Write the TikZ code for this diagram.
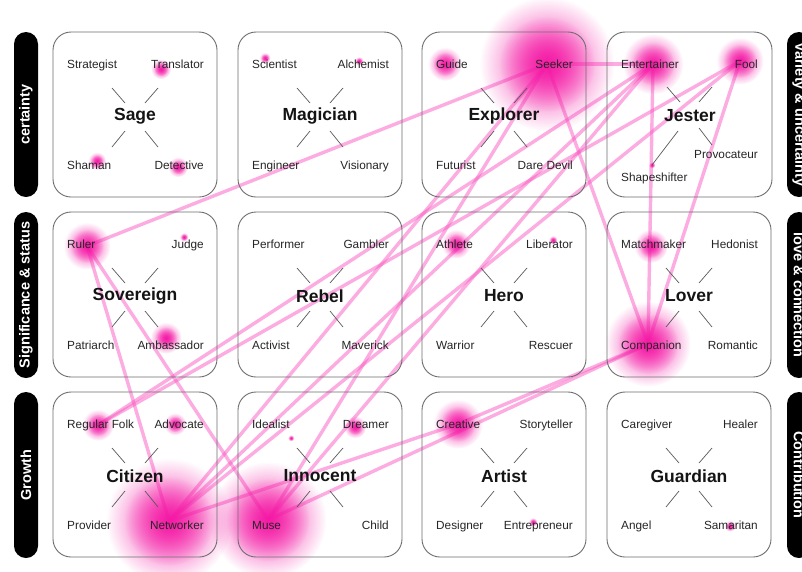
\documentclass[tikz,border=0pt]{standalone}
\usepackage{fontspec}
\setmainfont{Liberation Sans}
\usetikzlibrary{fadings}
\definecolor{heat}{RGB}{245,24,165}
\definecolor{gline}{RGB}{250,90,195}
\definecolor{boxgray}{RGB}{110,110,110}
\tikzfading[name=blobfade, inner color=transparent!0, outer color=transparent!100]
\newcommand\heatblob[3]{%
  \fill[heat, path fading=blobfade, opacity=0.9] (#1) circle ({1.12*#3});
  \fill[heat, path fading=blobfade, opacity=0.85] (#1) circle ({0.8*#3});}
\newcommand\archetype[8]{%
  \draw[archbox] (#2,#3) rectangle ++(164,165);
  \node[title] (#1) at ({#2+82},{#3+84}) {#4};
  \draw[tick] ({#2+59},{#3+56}) -- ({#2+72},{#3+71});
  \draw[tick] ({#2+105},{#3+56}) -- ({#2+92},{#3+71});
  \draw[tick] ({#2+72},{#3+99}) -- ({#2+59},{#3+115});
  \draw[tick] ({#2+92},{#3+99}) -- ({#2+105},{#3+115});
  \node[sub, anchor=west] (#1-tl) at ({#2+14},{#3+33}) {#5};
  \node[sub, anchor=east] (#1-tr) at ({#2+151},{#3+33}) {#6};
  \node[sub, anchor=west] (#1-bl) at ({#2+14},{#3+134}) {#7};
  \node[sub, anchor=east] (#1-br) at ({#2+151},{#3+134}) {#8};}
\begin{document}
\begin{tikzpicture}[x=1pt,y=-1pt,
  archbox/.style={draw=boxgray, line width=0.9pt, rounded corners=18pt},
  title/.style={font=\bfseries\fontsize{17.5}{19}\selectfont, text=black!92, inner sep=0pt},
  sub/.style={font=\fontsize{11.8}{13}\selectfont, text=black!85, inner sep=0pt, text height=8.5pt, text depth=2.5pt},
  tick/.style={draw=black!65, line width=0.7pt},
  sidebar/.style={fill=black, rounded corners=12pt},
  sidetext/.style={font=\bfseries\fontsize{14.5}{16}\selectfont, text=white, inner sep=0pt},
  gaze/.style={draw=gline, line width=3.4pt, opacity=0.5},
]
\clip (0,0) rectangle (802,571);
\fill[white] (0,0) rectangle (802,571);

% fixation points
\coordinate (fSeeker) at (547,64);
\coordinate (fGuide) at (445,64);
\coordinate (fEntertainer) at (653,64);
\coordinate (fFool) at (740,61);
\coordinate (fTranslator) at (161,69);
\coordinate (fShaman) at (97,161);
\coordinate (fDetective) at (178,167);
\coordinate (fScientist) at (265,58);
\coordinate (fAlchemist) at (359,61);
\coordinate (fRuler) at (87,246);
\coordinate (fJudge) at (184,237);
\coordinate (fAmbassador) at (166,338);
\coordinate (fAthlete) at (456,244);
\coordinate (fLiberator) at (553,240);
\coordinate (fMatchmaker) at (651,246);
\coordinate (fCompanion) at (648,344);
\coordinate (fRegular) at (98,425);
\coordinate (fAdvocate) at (175,424);
\coordinate (fNetworker) at (169,521);
\coordinate (fMuse) at (268,520);
\coordinate (fDreamer) at (355,427);
\coordinate (fIdealist) at (291,438);
\coordinate (fCreative) at (458,424);
\coordinate (fEntrepreneur) at (533,522);
\coordinate (fSamaritan) at (730,526);
\coordinate (fShape) at (652,165);

% gaze path
\draw[gaze] (fRuler) -- (fSeeker);
\draw[gaze] (fRuler) -- (fNetworker);
\draw[gaze] (fRuler) -- (fMuse);
\draw[gaze] (fSeeker) -- (fEntertainer);
\draw[gaze] (fSeeker) -- (fCompanion);
\draw[gaze] (fEntertainer) -- (fCompanion);
\draw[gaze] (fFool) -- (fCompanion);
\draw[gaze] (fNetworker) -- (fSeeker);
\draw[gaze] (fNetworker) -- (fEntertainer);
\draw[gaze] (fNetworker) -- (fFool);
\draw[gaze] (fNetworker) -- (fCreative) -- (fCompanion);
\draw[gaze] (fMuse) -- (fSeeker);
\draw[gaze] (fMuse) -- (fEntertainer);
\draw[gaze] (fMuse) -- (fCompanion);
\draw[gaze] (fRegular) -- (fEntertainer);
\draw[gaze] (fRegular) -- (fFool);

% heat
\heatblob{fSeeker}{}{60}
\heatblob{fGuide}{}{15}
\heatblob{fEntertainer}{}{27}
\heatblob{fFool}{}{21}
\heatblob{fTranslator}{}{9}
\heatblob{fShaman}{}{8}
\heatblob{fDetective}{}{9}
\heatblob{fScientist}{}{5}
\heatblob{fAlchemist}{}{4}
\heatblob{fRuler}{}{21}
\heatblob{fJudge}{}{4}
\heatblob{fAmbassador}{}{14}
\heatblob{fAthlete}{}{13}
\heatblob{fLiberator}{}{4}
\heatblob{fMatchmaker}{}{15}
\heatblob{fCompanion}{}{38}
\heatblob{fRegular}{}{14}
\heatblob{fAdvocate}{}{10}
\heatblob{fNetworker}{}{56}
\heatblob{fMuse}{}{52}
\heatblob{fDreamer}{}{10}
\heatblob{fIdealist}{}{3}
\heatblob{fCreative}{}{22}
\heatblob{fEntrepreneur}{}{4}
\heatblob{fSamaritan}{}{5}
\heatblob{fShape}{}{3}

% side bars
\fill[sidebar] (14,32) rectangle (38,197);
\node[sidetext, rotate=90] (barL1) at (26,114.5) {certainty};
\fill[sidebar] (14,212) rectangle (38,378);
\node[sidetext, rotate=90] (barL2) at (26,295) {Significance \& status};
\fill[sidebar] (14,392) rectangle (38,558);
\node[sidetext, rotate=90] (barL3) at (26,475) {Growth};
\fill[sidebar] (787,32) rectangle (811,197);
\node[sidetext, rotate=-90] (barR1) at (799,114.5) {Variety \& uncertainty};
\fill[sidebar] (787,212) rectangle (811,378);
\node[sidetext, rotate=-90] (barR2) at (799,295) {love \& connection};
\fill[sidebar] (787,392) rectangle (811,558);
\node[sidetext, rotate=-90] (barR3) at (799,475) {Contribution};

% archetype boxes
\archetype{sage}{53}{32}{Sage}{Strategist}{Translator}{Shaman}{Detective}
\archetype{magician}{238}{32}{Magician}{Scientist}{Alchemist}{Engineer}{Visionary}
\archetype{explorer}{422}{32}{Explorer}{Guide}{Seeker}{Futurist}{Dare Devil}
\archetype{sovereign}{53}{212}{Sovereign}{Ruler}{Judge}{Patriarch}{Ambassador}
\archetype{rebel}{238}{212}{Rebel}{Performer}{Gambler}{Activist}{Maverick}
\archetype{hero}{422}{212}{Hero}{Athlete}{Liberator}{Warrior}{Rescuer}
\archetype{lover}{607}{212}{Lover}{Matchmaker}{Hedonist}{Companion}{Romantic}
\archetype{citizen}{53}{392}{Citizen}{Regular Folk}{Advocate}{Provider}{Networker}
\archetype{innocent}{238}{392}{Innocent}{Idealist}{Dreamer}{Muse}{Child}
\archetype{artist}{422}{392}{Artist}{Creative}{Storyteller}{Designer}{Entrepreneur}
\archetype{guardian}{607}{392}{Guardian}{Caregiver}{Healer}{Angel}{Samaritan}

% jester (irregular layout)
\draw[archbox] (607,32) rectangle ++(165,165);
\node[title] (jester) at (690,116) {Jester};
\draw[tick] (667,87) -- (680,102);
\draw[tick] (712,87) -- (699,102);
\draw[tick] (678,131) -- (652,165);
\draw[tick] (699,128) -- (712,145);
\node[sub, anchor=west] (jester-tl) at (621,65) {Entertainer};
\node[sub, anchor=east] (jester-tr) at (758,65) {Fool};
\node[sub, anchor=east] (jester-br) at (758,155) {Provocateur};
\node[sub, anchor=west] (jester-bl) at (621,178) {Shapeshifter};
\end{tikzpicture}
\end{document}
